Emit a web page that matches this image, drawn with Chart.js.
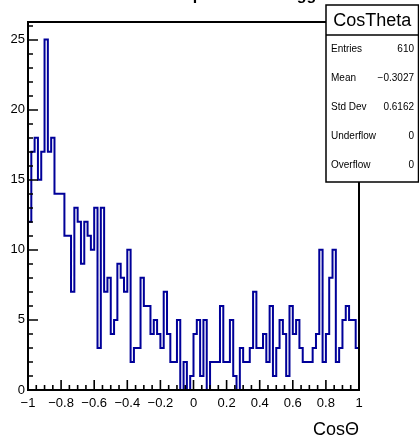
<!DOCTYPE html>
<html>
<head>
<meta charset="utf-8">
<script src="https://cdn.jsdelivr.net/npm/chart.js@4.4.1/dist/chart.umd.min.js"></script>
<style>
  html, body { margin: 0; padding: 0; background: #fff; }
  canvas { display: block; }
</style>
</head>
<body>
<canvas id="mycanvas" width="419" height="441"></canvas>
<script>
// CosTheta histogram, 100 bins from -1 to 1
var xMin = -1;
var xMax = 1;
var counts = [
  12, 17, 18, 15, 17, 25, 17, 18, 14, 14,
  14, 11, 11, 7, 13, 12, 9, 12, 11, 10,
  13, 3, 13, 7, 8, 4, 5, 9, 8, 7,
  10, 2, 3, 3, 8, 6, 6, 4, 5, 4,
  3, 7, 4, 2, 2, 5, 0, 2, 0, 1,
  4, 5, 1, 5, 0, 2, 2, 2, 6, 2,
  2, 5, 1, 0, 3, 2, 2, 3, 7, 3,
  3, 4, 2, 6, 1, 3, 5, 4, 1, 6,
  4, 5, 3, 2, 2, 2, 3, 4, 10, 2,
  4, 8, 10, 2, 3, 5, 6, 5, 5, 3
];
var yTicks = [0, 5, 10, 15, 20, 25];
var histName = "CosTheta";
var histTitle = "CosTheta for events passed the trigger";
var axisTitle = "Cos\u0398";
var statLabels = ["Entries", "Mean", "Std Dev", "Underflow", "Overflow"];
var statValues = ["610", "\u22120.3027", "0.6162", "0", "0"];

var font = "'Liberation Sans', Arial, Helvetica, sans-serif";
var binWidth = (xMax - xMin) / counts.length;

// outline points: start at (xMin,0), one point per low edge, close at (xMax,0)
var outline = [{x: xMin, y: 0}];
for (var i = 0; i < counts.length; i++) {
  outline.push({x: xMin + i * binWidth, y: counts[i]});
}
outline.push({x: xMax, y: counts[counts.length - 1]});
outline.push({x: xMax, y: 0});

function fmt(v) {
  var r = Math.round(v * 10) / 10;
  return String(r).replace('-', '\u2212');
}

var rootFrame = {
  id: 'rootFrame',
  afterDatasetsDraw: function(chart) {
    var ctx = chart.ctx, a = chart.chartArea;
    var xs = chart.scales.x, ys = chart.scales.y;
    ctx.save();
    ctx.strokeStyle = '#000';
    ctx.lineWidth = 2;
    ctx.strokeRect(a.left, a.top, a.right - a.left, a.bottom - a.top);

    ctx.lineWidth = 1.6;
    ctx.beginPath();
    for (var v = 0; v <= 26; v++) {
      var py = Math.round(ys.getPixelForValue(v));
      var len = v % 5 === 0 ? 10 : 5;
      ctx.moveTo(a.left, py); ctx.lineTo(a.left + len, py);
    }
    for (var k = 0; k <= 40; k++) {
      var px = xs.getPixelForValue(xMin + k * 0.05);
      var len2 = k % 4 === 0 ? 10 : 5;
      ctx.moveTo(px, a.bottom); ctx.lineTo(px, a.bottom - len2);
    }
    ctx.stroke();

    // title, mostly above the top edge of the canvas
    ctx.fillStyle = '#000';
    ctx.textAlign = 'center';
    ctx.textBaseline = 'alphabetic';
    ctx.font = 'bold 16px ' + font;
    ctx.fillText(histTitle, 183, 0);

    // stats box
    var bx = 326, by = 5, bw = 92.5, bh = 177;
    ctx.fillStyle = '#fff';
    ctx.fillRect(bx, by, bw, bh);
    ctx.lineWidth = 1.5;
    ctx.strokeRect(bx, by, bw, bh);
    ctx.beginPath();
    ctx.moveTo(bx, 35); ctx.lineTo(bx + bw, 35);
    ctx.stroke();

    ctx.fillStyle = '#000';
    ctx.textBaseline = 'middle';
    ctx.textAlign = 'center';
    ctx.font = '18px ' + font;
    ctx.fillText(histName, bx + bw / 2, 21);
    ctx.font = '10px ' + font;
    for (var j = 0; j < statLabels.length; j++) {
      var ty = 49.5 + j * 29;
      ctx.textAlign = 'left';
      ctx.fillText(statLabels[j], 331, ty);
      ctx.textAlign = 'right';
      ctx.fillText(statValues[j], 414, ty);
    }
    ctx.restore();
  }
};

var ctx = document.getElementById('mycanvas').getContext('2d');
var chart = new Chart(ctx, {
  type: 'line',
  data: {
    datasets: [{
      label: histName,
      data: outline,
      stepped: true,
      borderColor: '#000099',
      borderWidth: 2,
      pointRadius: 0,
      fill: false,
      borderJoinStyle: 'miter',
      borderCapStyle: 'butt'
    }]
  },
  options: {
    responsive: false,
    animation: false,
    events: [],
    layout: { padding: { top: 22, right: 60, left: 0, bottom: 0 } },
    plugins: {
      legend: { display: false },
      tooltip: { enabled: false },
      title: { display: false }
    },
    scales: {
      x: {
        type: 'linear',
        min: xMin,
        max: xMax,
        grid: { display: false, drawTicks: false },
        border: { display: false },
        ticks: {
          stepSize: 0.2,
          padding: 6,
          color: '#000',
          maxRotation: 0,
          autoSkip: false,
          font: { family: font, size: 13 },
          callback: function(v) { return fmt(v); }
        },
        title: {
          display: true,
          text: axisTitle,
          align: 'end',
          color: '#000',
          font: { family: font, size: 18 },
          padding: { top: 0, bottom: 0 }
        },
        afterFit: function(s) { s.height = 51; }
      },
      y: {
        min: 0,
        max: 26.25,
        grid: { display: false, drawTicks: false },
        border: { display: false },
        ticks: {
          stepSize: 5,
          includeBounds: false,
          padding: 3,
          color: '#000',
          font: { family: font, size: 13 },
          callback: function(v) { return yTicks.indexOf(v) >= 0 ? String(v) : ''; }
        },
        afterFit: function(s) { s.width = 28; }
      }
    }
  },
  plugins: [rootFrame]
});
</script>
</body>
</html>
